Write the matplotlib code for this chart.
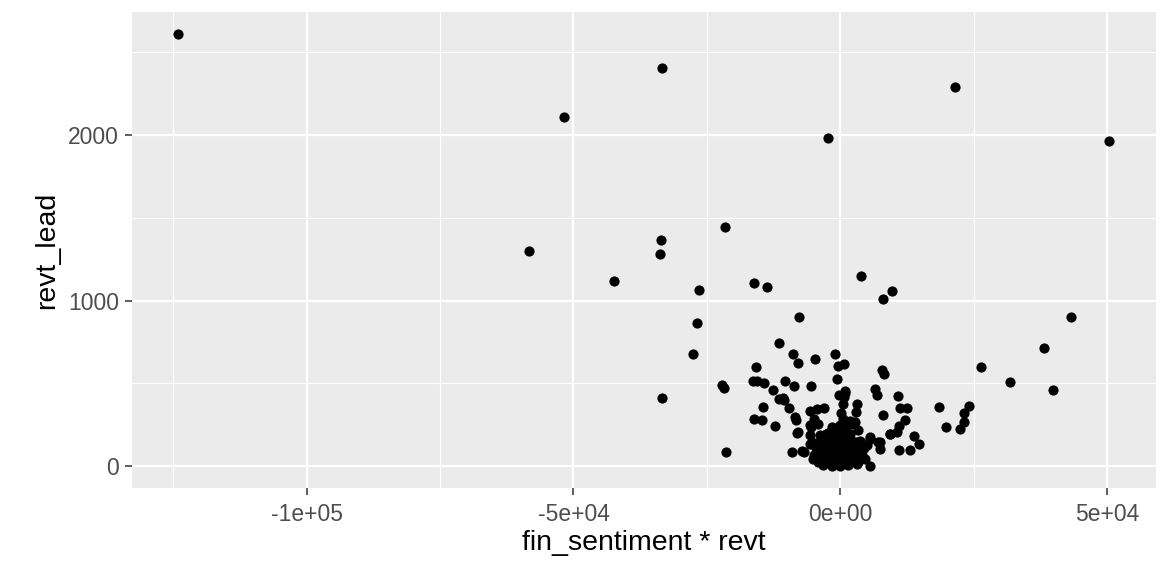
import numpy as np
import matplotlib.pyplot as plt
from matplotlib.ticker import FixedLocator, FuncFormatter

plt.rcParams['font.family'] = ['Liberation Sans', 'DejaVu Sans']

# ==========================================
# data (fin_sentiment * revt, revt_lead)
# ==========================================
# outliers / sparse points
x_sparse = [-124125, -33431, -51731, 21600, -2212, 50381, -58256, -33619, -33806,
            -42319, -21619, -26381, -16069, -13744, -26869, -27506, -33319, -22181,
            -21750, -21319, 3938, 8063, 9750, 43181, 38119, 26306, 31744, 39806]
y_sparse = [2610, 2405, 2109, 2290, 1982, 1964, 1297, 1364, 1279,
            1116, 1444, 1062, 1106, 1083, 862, 675, 413, 488,
            473, 89, 1146, 1007, 1056, 898, 711, 602, 506, 463]

# mid-range points around the cluster
x_mid = [-7688, -11494, -8756, -7931, -4688, -938, -319, 750, -619, -15806,
         -16369, -15506, -14250, -12563, -10313, -8681, -5494, -11438, -10744, -10500,
         -14494, -9506, -8438, -8250, -5625, -4369, -3000, -188, 881, -16125,
         -14681, -12244, -7875, -5494, -9056, -7181, -6750, 7819, 8119, 18563,
         24056, 23119, 23250, 22369, 19744, 10875, 6431, 6881, 3188, 938,
         619, 8063, 11250, 12506, 12056, 10931, 9375, 10631, 13744, 14756,
         10931, 13125, 7069, 7369, 5625, 5494, 3000, 2494, 806, 188,
         -8125, -5625, 2813, 5625, 7369, 9375]
y_mid = [898, 747, 677, 621, 645, 677, 604, 616, 527, 598,
         515, 515, 503, 461, 515, 483, 483, 405, 411, 399,
         361, 355, 298, 282, 334, 343, 355, 429, 455, 284,
         278, 243, 207, 237, 86, 92, 86, 580, 560, 361,
         367, 324, 268, 225, 240, 423, 465, 429, 379, 445,
         375, 312, 352, 355, 280, 243, 198, 207, 183, 137,
         101, 101, 147, 107, 167, 0, 328, 258, 419, 320,
         201, 247, 268, 177, 148, 198]

# dense cluster near the origin
x_dense = [-4875, -4069, 506, 1875, -619, 0, 3431, -5625, -3750, -2194,
           -5625, -5006, -3131, -1556, 0, 1556, 3131, 4688,
           -3131, -1875, -619, 619, 1875, 3131, 4069, -1875, -619, 938,
           2494, 3750, -3131, -1250, 619, 2194, -3750, -2494, 0, 1256,
           -1250, 0, 1556, -1556, 5006, -4369, -5306,
           -4125, -2625, -1125, 375, 1875, 3375,
           -4875, -3375, -1875, -375, 1125, 2625, 4125,
           -4500, -3000, -1500, 0, 1500, 3000, 4500,
           -3750, -2250, -750, 750, 2250, 3750,
           -2625, -1125, 375, 1875, -1500, 1125]
y_dense = [288, 258, 284, 272, 228, 248, 218, 187, 187, 204,
           137, 47, 6, 2, 0, 6, 16, 47,
           167, 147, 127, 147, 167, 147, 107, 86, 66, 66,
           77, 56, 97, 36, 36, 36, 127, 47, 187, 207,
           198, 107, 117, 117, 127, 97, 147,
           24, 24, 24, 24, 24, 24,
           66, 66, 66, 66, 66, 66, 66,
           109, 109, 109, 109, 109, 109, 109,
           151, 151, 151, 151, 151, 151,
           193, 193, 193, 193, 236, 236]

x_all = np.array(x_sparse + x_mid + x_dense, dtype=float)
y_all = np.array(y_sparse + y_mid + y_dense, dtype=float)

# ==========================================
# ggplot-like figure
# ==========================================
fig = plt.figure(figsize=(11.68, 5.61), dpi=100)
fig.patch.set_facecolor('white')
ax = fig.add_axes([131.5 / 1168, 1 - 488 / 561, (1155.5 - 131.5) / 1168, (488 - 12) / 561])
ax.set_facecolor('#EBEBEB')

ax.scatter(x_all, y_all, s=54, c='black', linewidths=0, zorder=3)
ax.margins(0.05)

ax.xaxis.set_major_locator(FixedLocator([-1e5, -5e4, 0, 5e4]))
ax.xaxis.set_minor_locator(FixedLocator([-1.25e5, -7.5e4, -2.5e4, 2.5e4]))
ax.yaxis.set_major_locator(FixedLocator([0, 1000, 2000]))
ax.yaxis.set_minor_locator(FixedLocator([500, 1500, 2500]))

xlabels = {-1e5: '-1e+05', -5e4: '-5e+04', 0: '0e+00', 5e4: '5e+04'}
ax.xaxis.set_major_formatter(FuncFormatter(lambda v, p: xlabels.get(v, '')))

ax.grid(which='major', color='white', linewidth=1.6, zorder=0)
ax.grid(which='minor', color='white', linewidth=0.8, zorder=0)
ax.set_axisbelow(True)
for sp in ax.spines.values():
    sp.set_visible(False)

ax.tick_params(axis='both', which='major', length=5, width=1.1, color='#333333',
               labelcolor='#4D4D4D', labelsize=16.5, pad=4)
ax.tick_params(axis='x', which='major', pad=6)
ax.tick_params(axis='both', which='minor', length=0)

ax.set_xlabel('fin_sentiment * revt', fontsize=20.5, color='black', labelpad=3)
ax.set_ylabel('revt_lead', fontsize=20.5, color='black', labelpad=6)

fig.savefig('out.png', dpi=100)
